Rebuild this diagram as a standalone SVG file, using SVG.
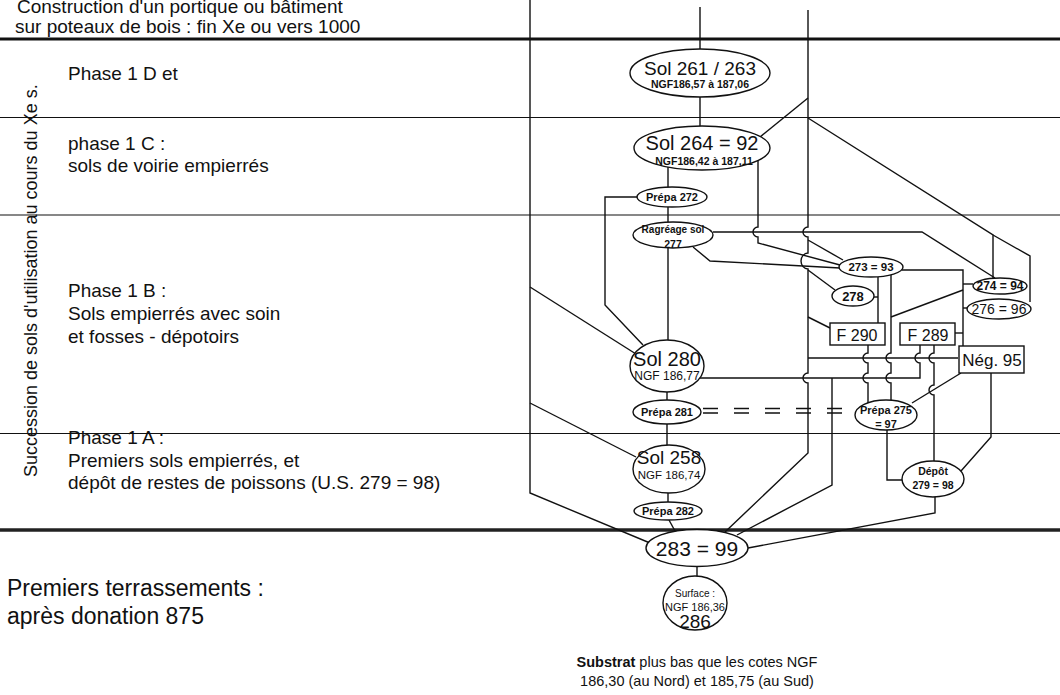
<svg xmlns="http://www.w3.org/2000/svg" width="1060" height="695" viewBox="0 0 1060 695">
<style>
text{font-family:"Liberation Sans",Arial,sans-serif;fill:#111}
.lbl{font-size:19px}
.big{font-size:23px}
.nd{fill:#fff;stroke:#111;stroke-width:1.4}
.c{fill:none;stroke:#111;stroke-width:1.4}
.t19{font-size:19px;text-anchor:middle}
.t11{font-size:11px;font-weight:bold;text-anchor:middle}
.t12{font-size:12px;text-anchor:middle}
.box{font-size:16px;text-anchor:middle}
</style>
<rect width="1060" height="695" fill="#fff"/>
<g id="frame">
<line x1="0" y1="39" x2="1060" y2="39" stroke="#111" stroke-width="3"/>
<line x1="0" y1="117.5" x2="1060" y2="117.5" stroke="#111" stroke-width="1.2"/>
<line x1="0" y1="215" x2="1060" y2="215" stroke="#111" stroke-width="1.2"/>
<line x1="0" y1="433.5" x2="1060" y2="433.5" stroke="#111" stroke-width="1.2"/>
<line x1="0" y1="530" x2="1060" y2="530" stroke="#222" stroke-width="3.5"/>
</g>
<g id="labels">
<text class="lbl" x="17" y="13">Construction d'un portique ou bâtiment</text>
<text class="lbl" x="15" y="33">sur poteaux de bois : fin Xe ou vers 1000</text>
<text style="font-size:18px" transform="translate(37,477) rotate(-90)">Succession de sols d'utilisation au cours du Xe s.</text>
<text class="lbl" x="68" y="80">Phase 1 D et</text>
<text class="lbl" x="68" y="150">phase 1 C :</text>
<text class="lbl" x="68" y="172">sols de voirie empierrés</text>
<text class="lbl" x="68" y="297">Phase 1 B :</text>
<text class="lbl" x="68" y="320">Sols empierrés avec soin</text>
<text class="lbl" x="68" y="343">et fosses - dépotoirs</text>
<text class="lbl" x="68" y="444">Phase 1 A :</text>
<text class="lbl" x="68" y="467">Premiers sols empierrés, et</text>
<text class="lbl" x="68" y="489">dépôt de restes de poissons (U.S. 279 = 98)</text>
<text class="big" x="7" y="596">Premiers terrassements :</text>
<text class="big" x="7" y="624">après donation 875</text>
<text style="font-size:14.5px;text-anchor:middle" x="697" y="667"><tspan font-weight="bold">Substrat</tspan> plus bas que les cotes NGF</text>
<text style="font-size:14.5px;text-anchor:middle" x="697" y="686">186,30 (au Nord) et 185,75 (au Sud)</text>
</g>
<g id="connectors" class="c">
<path class="c" d="M530,0 V493 L650,543"/>
<path class="c" d="M530,287 L636,354"/>
<path class="c" d="M530,403 L636,457"/>
<path class="c" d="M637,197 H605 V305 L643,345"/>
<path class="c" d="M700,7 V49"/>
<path class="c" d="M700,97 V126"/>
<path class="c" d="M668,167 V188"/>
<path class="c" d="M668,207 V222"/>
<path class="c" d="M668,248 V341"/>
<path class="c" d="M667,392 V400"/>
<path class="c" d="M667,424 V445"/>
<path class="c" d="M668,493 V502"/>
<path class="c" d="M669,520 L675,531"/>
<path class="c" d="M697,567 V577"/>
<path class="c" d="M808,10 V227 a5,5 0 0 0 0,10 V253 a7,8 0 0 0 0,16 V373 a5,5 0 0 0 0,10 V453 L725,532"/>
<path class="c" d="M808,98 L760,137"/>
<path class="c" d="M808,118 L993,235 V278"/>
<path class="c" d="M993,235 L1030,256 V302"/>
<path class="c" d="M808,240 L843,260"/>
<path class="c" d="M808,270 L835,290"/>
<path class="c" d="M808,317 L830,328"/>
<path class="c" d="M808,358 H958"/>
<path class="c" d="M758,161 V227 a5,5 0 0 0 0,10 V243 L840,265"/>
<path class="c" d="M693,247 L710,261 L840,268"/>
<path class="c" d="M713,232 H922 L995,278"/>
<path class="c" d="M878,277 V323"/>
<path class="c" d="M874,297 H878"/>
<path class="c" d="M891,275 V353 a5,5 0 0 0 0,10 V373 a5,5 0 0 0 0,10 V400"/>
<path class="c" d="M891,317 L963,290"/>
<path class="c" d="M902,270 H963 V346"/>
<path class="c" d="M963,284 H973"/>
<path class="c" d="M963,308 H968"/>
<path class="c" d="M955,333 H963"/>
<path class="c" d="M868,345 V353 a5,5 0 0 0 0,10 V373 a5,5 0 0 0 0,10 V403"/>
<path class="c" d="M920,345 V353 a5,5 0 0 0 0,10 V378 H700"/>
<path class="c" d="M832,378 V485 L737,535"/>
<path class="c" d="M934,345 V353 a5,5 0 0 0 0,10 V385 a5,5 0 0 0 0,10 V461"/>
<path class="c" d="M961,373 L912,403"/>
<path class="c" d="M991,373 V437 L961,471"/>
<path class="c" d="M887,430 V480 H902"/>
<path class="c" d="M935,497 V513 L748,548"/>
<path class="c" d="M703,408.5 H848 M703,413 H848" stroke-dasharray="15 16"/>
</g>
<g id="n261"><ellipse class="nd" cx="700" cy="73" rx="70" ry="24"/><text class="t19" x="700" y="75">Sol 261 / 263</text><text class="t11" style="font-size:10.5px" x="700" y="88">NGF186,57 à 187,06</text></g>
<g id="n264"><ellipse class="nd" cx="702" cy="148" rx="68" ry="22"/><text class="t19" style="font-size:20px" x="702" y="150">Sol 264 = 92</text><text class="t11" style="font-size:10.5px" x="704" y="165">NGF186,42 à 187,11</text></g>
<g id="n272"><ellipse class="nd" cx="672" cy="197" rx="35" ry="10"/><text class="t11" x="672" y="201">Prépa 272</text></g>
<g id="n277"><ellipse class="nd" cx="673" cy="235" rx="40" ry="13"/><text class="t11" style="font-size:10px" x="673" y="233">Ragréage sol</text><text class="t11" style="font-size:10.5px" x="673" y="248">277</text></g>
<g id="n273"><ellipse class="nd" cx="871" cy="267" rx="32" ry="10"/><text class="t11" style="font-size:11.5px" x="871" y="271">273 = 93</text></g>
<g id="n278"><ellipse class="nd" cx="853" cy="296" rx="21" ry="10"/><text class="t11" style="font-size:13px" x="853" y="301">278</text></g>
<g id="n274"><ellipse class="nd" cx="1000" cy="286" rx="27" ry="8"/><text class="t12" style="font-weight:bold" x="1000" y="290">274 = 94</text></g>
<g id="n276"><ellipse class="nd" cx="999" cy="309" rx="32" ry="10"/><text class="t12" style="font-size:14px" x="999" y="314">276 = 96</text></g>
<g id="f290"><rect class="nd" x="830" y="323" width="55" height="22"/><text class="box" x="857" y="341">F 290</text></g>
<g id="f289"><rect class="nd" x="900" y="323" width="55" height="22"/><text class="box" x="928" y="341">F 289</text></g>
<g id="neg95"><rect class="nd" x="959" y="346" width="65" height="27"/><text class="box" style="font-size:17px" x="992" y="366">Nég. 95</text></g>
<g id="n280"><ellipse class="nd" cx="667" cy="366" rx="37" ry="26"/><text class="t19" style="font-size:20px" x="667" y="366">Sol 280</text><text class="t12" x="667" y="380">NGF 186,77</text></g>
<g id="n281"><ellipse class="nd" cx="667" cy="412" rx="34" ry="12"/><text class="t11" x="667" y="416">Prépa 281</text></g>
<g id="n275"><ellipse class="nd" cx="886" cy="415" rx="31" ry="15"/><text class="t11" x="886" y="414">Prépa 275</text><text class="t11" x="886" y="428">= 97</text></g>
<g id="n258"><ellipse class="nd" cx="669" cy="469" rx="36" ry="24"/><text class="t19" x="669" y="464">Sol 258</text><text class="t12" style="font-size:11.5px" x="669" y="479">NGF 186,74</text></g>
<g id="n282"><ellipse class="nd" cx="668" cy="511" rx="34" ry="9"/><text class="t11" x="668" y="515">Prépa 282</text></g>
<g id="depot"><ellipse class="nd" cx="933" cy="479" rx="31" ry="18"/><text class="t11" style="font-size:10.5px" x="933" y="475">Dépôt</text><text class="t11" style="font-size:10.5px" x="933" y="489">279 = 98</text></g>
<g id="n283"><ellipse class="nd" cx="697" cy="548" rx="51" ry="18.5"/><text class="t19" style="font-size:21px" x="697" y="556">283 = 99</text></g>
<g id="n286"><ellipse class="nd" cx="695" cy="603" rx="32" ry="27"/><text class="t11" style="font-size:10px;font-weight:normal" x="695" y="597">Surface :</text><text class="t12" style="font-size:11px" x="695" y="611">NGF 186,36</text><text class="t19" x="695" y="628">286</text></g>
</svg>
